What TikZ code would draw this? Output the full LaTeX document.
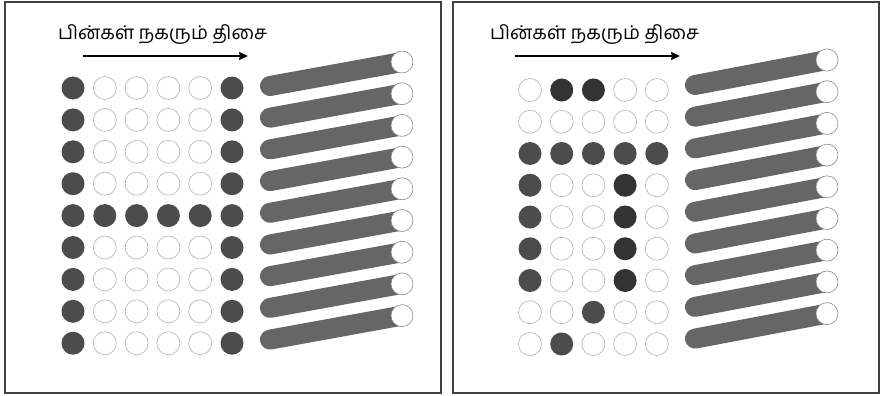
\documentclass[tikz,border=0pt]{standalone}
\usepackage{fontspec}
\newfontfamily\tamilfont[Script=Tamil]{Hind Madurai}
\usetikzlibrary{arrows.meta}

\begin{document}
\begin{tikzpicture}[
    x=1pt, y=-1pt,
    panel/.style={draw=black!75, line width=1.4pt},
    dot/.style={circle, inner sep=0pt, minimum size=23pt},
    pinoff/.style={dot, draw=black!30, line width=0.6pt, fill=white},
    pinon/.style={dot, fill=black!70},
    pindark/.style={dot, fill=black!80},
    rod/.style={line width=20pt, line cap=round, draw=black!60},
    tip/.style={circle, inner sep=0pt, minimum size=22pt, draw=black!45, line width=0.6pt, fill=white},
    arr/.style={-{Stealth[length=9pt, width=8pt, inset=1pt]}, line width=1.2pt},
    lbl/.style={font=\tamilfont\fontsize{19}{22}\selectfont, anchor=base west, inner sep=0pt}
]
\useasboundingbox (0,0) rectangle (881,396);

% left panel
\draw[panel] (5,2) rectangle (441,393);
\node[lbl] (ltitle) at (58,40) {பின்கள் நகரும் திசை};
\coordinate (lfrom) at (83,56);
\coordinate (lto) at (248,56);
\draw[arr] (lfrom) -- (lto);
\foreach \r/\pat in {
    1/{pinon,pinoff,pinoff,pinoff,pinoff,pinon},
    2/{pinon,pinoff,pinoff,pinoff,pinoff,pinon},
    3/{pinon,pinoff,pinoff,pinoff,pinoff,pinon},
    4/{pinon,pinoff,pinoff,pinoff,pinoff,pinon},
    5/{pinon,pinon,pinon,pinon,pinon,pinon},
    6/{pinon,pinoff,pinoff,pinoff,pinoff,pinon},
    7/{pinon,pinoff,pinoff,pinoff,pinoff,pinon},
    8/{pinon,pinoff,pinoff,pinoff,pinoff,pinon},
    9/{pinon,pinoff,pinoff,pinoff,pinoff,pinon}}
  \foreach \s [count=\c] in \pat
    \node[\s] (L-\r-\c) at ({73+31.8*(\c-1)}, {88+31.9*(\r-1)}) {};
\foreach \k in {0,...,8} {
  \coordinate (lrod\k) at (270, {86+31.7*\k});
  \coordinate (lend\k) at (402, {62+31.7*\k});
  \draw[rod] (lrod\k) -- (lend\k);
  \node[tip] (ltip\k) at (lend\k) {};
}

% right panel
\draw[panel] (453,2) rectangle (879,393);
\node[lbl] (rtitle) at (490,40) {பின்கள் நகரும் திசை};
\coordinate (rfrom) at (515,56);
\coordinate (rto) at (680,56);
\draw[arr] (rfrom) -- (rto);
\foreach \r/\pat in {
    1/{pinoff,pindark,pindark,pinoff,pinoff},
    2/{pinoff,pinoff,pinoff,pinoff,pinoff},
    3/{pinon,pinon,pinon,pinon,pinon},
    4/{pinon,pinoff,pinoff,pindark,pinoff},
    5/{pinon,pinoff,pinoff,pindark,pinoff},
    6/{pinon,pinoff,pinoff,pindark,pinoff},
    7/{pinon,pinoff,pinoff,pindark,pinoff},
    8/{pinoff,pinoff,pinon,pinoff,pinoff},
    9/{pinoff,pinon,pinoff,pinoff,pinoff}}
  \foreach \s [count=\c] in \pat
    \node[\s] (R-\r-\c) at ({530+31.7*(\c-1)}, {90+31.75*(\r-1)}) {};
\foreach \k in {0,...,8} {
  \coordinate (rrod\k) at (695, {85+31.7*\k});
  \coordinate (rend\k) at (827, {60+31.7*\k});
  \draw[rod] (rrod\k) -- (rend\k);
  \node[tip] (rtip\k) at (rend\k) {};
}
\end{tikzpicture}
\end{document}
